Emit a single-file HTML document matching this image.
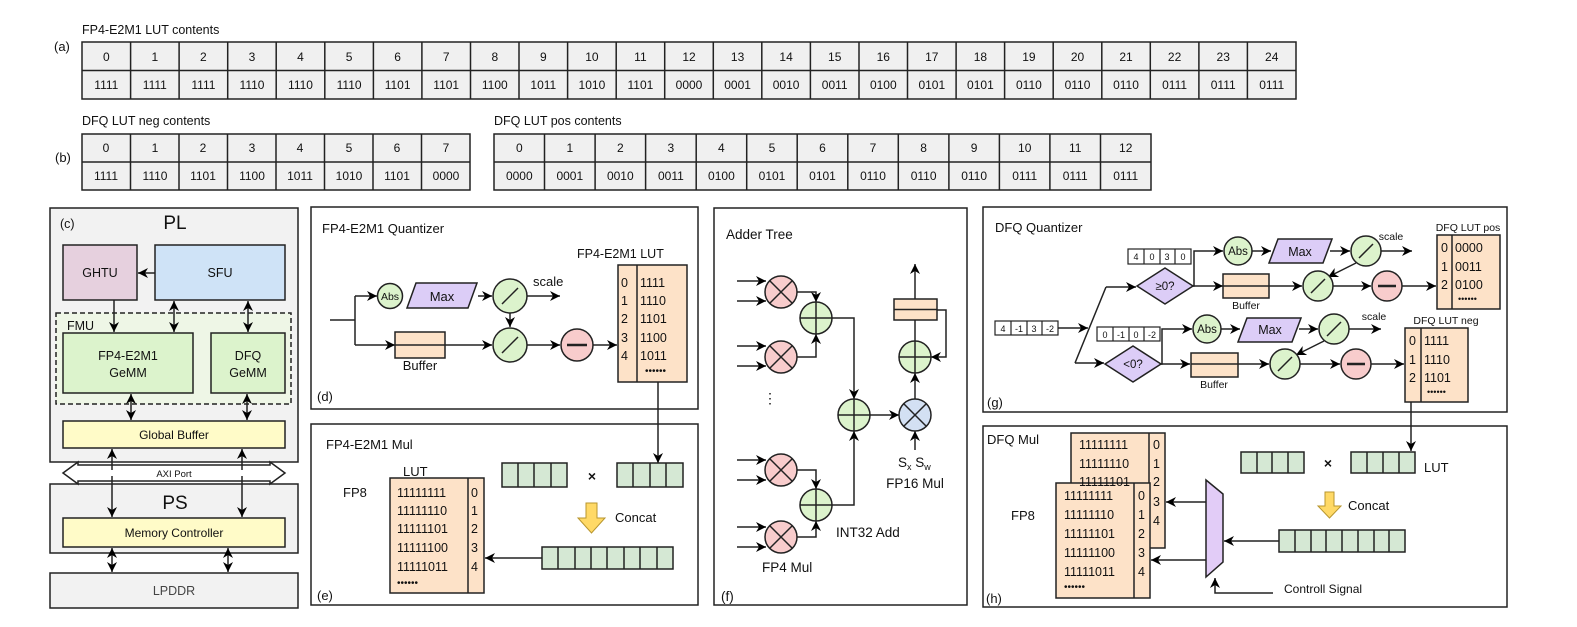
<!DOCTYPE html>
<html><head><meta charset="utf-8"><style>
body{margin:0;background:#fff}
svg{display:block;font-family:"Liberation Sans",Arial,sans-serif}
</style></head><body>
<svg width="1577" height="627" viewBox="0 0 1577 627" xmlns="http://www.w3.org/2000/svg">
<defs>
<marker id="a" viewBox="0 0 10 10" refX="10" refY="5" markerWidth="10" markerHeight="10" markerUnits="userSpaceOnUse" orient="auto-start-reverse"><path d="M0,0 L10,5 L0,10 L3,5 z" fill="#000"/></marker>
</defs>
<g font-size="12" fill="#111">
<!-- (a) -->
<text x="82" y="34" font-size="12.5">FP4-E2M1 LUT contents</text>
<text x="54" y="51" font-size="13">(a)</text>
<rect x="82" y="42" width="1214" height="57" fill="#f0f0f0" stroke="#222" stroke-width="1.5"/>
<path d="M82,70.5H1296 M130.6,42V99 M179.1,42V99 M227.7,42V99 M276.2,42V99 M324.8,42V99 M373.4,42V99 M421.9,42V99 M470.5,42V99 M519,42V99 M567.6,42V99 M616.2,42V99 M664.7,42V99 M713.3,42V99 M761.8,42V99 M810.4,42V99 M859,42V99 M907.5,42V99 M956.1,42V99 M1004.6,42V99 M1053.2,42V99 M1101.8,42V99 M1150.3,42V99 M1198.9,42V99 M1247.4,42V99" stroke="#222" stroke-width="1.5"/>
<g text-anchor="middle">
<text x="106.3" y="61">0</text><text x="154.8" y="61">1</text><text x="203.4" y="61">2</text><text x="252" y="61">3</text><text x="300.5" y="61">4</text><text x="349.1" y="61">5</text><text x="397.6" y="61">6</text><text x="446.2" y="61">7</text><text x="494.8" y="61">8</text><text x="543.3" y="61">9</text><text x="591.9" y="61">10</text><text x="640.4" y="61">11</text><text x="689" y="61">12</text><text x="737.6" y="61">13</text><text x="786.1" y="61">14</text><text x="834.7" y="61">15</text><text x="883.3" y="61">16</text><text x="931.8" y="61">17</text><text x="980.4" y="61">18</text><text x="1028.9" y="61">19</text><text x="1077.5" y="61">20</text><text x="1126" y="61">21</text><text x="1174.6" y="61">22</text><text x="1223.2" y="61">23</text><text x="1271.7" y="61">24</text>
<text x="106.3" y="89">1111</text><text x="154.8" y="89">1111</text><text x="203.4" y="89">1111</text><text x="252" y="89">1110</text><text x="300.5" y="89">1110</text><text x="349.1" y="89">1110</text><text x="397.6" y="89">1101</text><text x="446.2" y="89">1101</text><text x="494.8" y="89">1100</text><text x="543.3" y="89">1011</text><text x="591.9" y="89">1010</text><text x="640.4" y="89">1101</text><text x="689" y="89">0000</text><text x="737.6" y="89">0001</text><text x="786.1" y="89">0010</text><text x="834.7" y="89">0011</text><text x="883.3" y="89">0100</text><text x="931.8" y="89">0101</text><text x="980.4" y="89">0101</text><text x="1028.9" y="89">0110</text><text x="1077.5" y="89">0110</text><text x="1126" y="89">0110</text><text x="1174.6" y="89">0111</text><text x="1223.2" y="89">0111</text><text x="1271.7" y="89">0111</text>
</g>
<!-- (b) -->
<text x="82" y="125" font-size="12.5">DFQ LUT neg contents</text>
<text x="494" y="125" font-size="12.5">DFQ LUT pos contents</text>
<text x="55" y="162" font-size="13">(b)</text>
<rect x="82" y="134" width="388" height="56" fill="#f0f0f0" stroke="#222" stroke-width="1.5"/>
<path d="M82,162H470 M130.5,134V190 M179,134V190 M227.5,134V190 M276,134V190 M324.5,134V190 M373,134V190 M421.5,134V190" stroke="#222" stroke-width="1.5"/>
<rect x="494" y="134" width="657" height="56" fill="#f0f0f0" stroke="#222" stroke-width="1.5"/>
<path d="M494,162H1151 M544.5,134V190 M595.1,134V190 M645.6,134V190 M696.2,134V190 M746.7,134V190 M797.2,134V190 M847.8,134V190 M898.3,134V190 M948.9,134V190 M999.4,134V190 M1049.9,134V190 M1100.5,134V190" stroke="#222" stroke-width="1.5"/>
<g text-anchor="middle">
<text x="106" y="152">0</text><text x="155" y="152">1</text><text x="203" y="152">2</text><text x="252" y="152">3</text><text x="300" y="152">4</text><text x="349" y="152">5</text><text x="397" y="152">6</text><text x="446" y="152">7</text>
<text x="106" y="180">1111</text><text x="155" y="180">1110</text><text x="203" y="180">1101</text><text x="252" y="180">1100</text><text x="300" y="180">1011</text><text x="349" y="180">1010</text><text x="397" y="180">1101</text><text x="446" y="180">0000</text>
<text x="519.3" y="152">0</text><text x="569.8" y="152">1</text><text x="620.3" y="152">2</text><text x="670.9" y="152">3</text><text x="721.4" y="152">4</text><text x="772" y="152">5</text><text x="822.5" y="152">6</text><text x="873" y="152">7</text><text x="923.6" y="152">8</text><text x="974.1" y="152">9</text><text x="1024.7" y="152">10</text><text x="1075.2" y="152">11</text><text x="1125.7" y="152">12</text>
<text x="519.3" y="180">0000</text><text x="569.8" y="180">0001</text><text x="620.3" y="180">0010</text><text x="670.9" y="180">0011</text><text x="721.4" y="180">0100</text><text x="772" y="180">0101</text><text x="822.5" y="180">0101</text><text x="873" y="180">0110</text><text x="923.6" y="180">0110</text><text x="974.1" y="180">0110</text><text x="1024.7" y="180">0111</text><text x="1075.2" y="180">0111</text><text x="1125.7" y="180">0111</text>
</g>
</g>

<!-- (c) -->
<g stroke="#222" stroke-width="1.5" font-size="12" fill="#111">
<rect x="50" y="208" width="248" height="254" fill="#f2f2f2"/>
<rect x="50" y="484" width="248" height="69" fill="#f2f2f2"/>
<rect x="50" y="573" width="248" height="35" fill="#f2f2f2"/>
<rect x="63" y="245" width="74" height="55" fill="#e6d0de"/>
<rect x="155" y="245" width="130" height="55" fill="#cfe3f7"/>
<rect x="56" y="313" width="235" height="91" fill="#eef6e6" stroke-dasharray="5,3"/>
<rect x="63" y="333" width="130" height="60" fill="#dcf3cc"/>
<rect x="211" y="333" width="74" height="60" fill="#dcf3cc"/>
<rect x="63" y="421" width="222" height="27" fill="#fffbc8"/>
<rect x="63" y="518" width="222" height="29" fill="#fffbc8"/>
<path d="M63,473 L78,462 V465 H270 V462 L285,473 L270,484 V481 H78 V484 Z" fill="#fff"/>
<g fill="none" marker-end="url(#a)">
<path d="M155,273H138"/>
<path d="M114,300V332"/>
<path d="M174,301V332" marker-start="url(#a)"/>
<path d="M248,301V332" marker-start="url(#a)"/>
<path d="M131,394V420" marker-start="url(#a)"/>
<path d="M247,394V420" marker-start="url(#a)"/>
<path d="M112,470V449"/><path d="M242,470V449"/>
<path d="M112,476V517"/><path d="M242,476V517"/>
<path d="M112,548V572" marker-start="url(#a)"/>
<path d="M228,548V572" marker-start="url(#a)"/>
</g>
</g>
<g font-size="12.5" fill="#111" text-anchor="middle">
<text x="60" y="228" font-size="12.5" text-anchor="start">(c)</text>
<text x="175" y="229" font-size="19">PL</text>
<text x="100" y="277">GHTU</text>
<text x="220" y="277">SFU</text>
<text x="67" y="330" text-anchor="start">FMU</text>
<text x="128" y="360">FP4-E2M1</text><text x="128" y="377">GeMM</text>
<text x="248" y="360">DFQ</text><text x="248" y="377">GeMM</text>
<text x="174" y="439" font-size="12">Global Buffer</text>
<text x="174" y="477" font-size="9.5">AXI Port</text>
<text x="175" y="509" font-size="19">PS</text>
<text x="174" y="537" font-size="12">Memory Controller</text>
<text x="174" y="595" fill="#444">LPDDR</text>
</g>

<!-- frames -->
<g stroke="#222" stroke-width="1.5" fill="none">
<rect x="311" y="207" width="387" height="202" fill="#fff"/>
<rect x="311" y="424" width="387" height="181" fill="#fff"/>
<rect x="714" y="208" width="253" height="397" fill="#fff"/>
<rect x="983" y="207" width="524" height="205" fill="#fff"/>
<rect x="983" y="426" width="524" height="181" fill="#fff"/>
</g>
<!-- (d) -->
<g stroke="#222" stroke-width="1.5" font-size="12" fill="#111">
<path d="M330,320H355 M355,296V345" fill="none"/>
<g fill="none" marker-end="url(#a)">
<path d="M355,296H377"/><path d="M355,345H395"/><path d="M445,345H492"/>
<path d="M478,296H492"/><path d="M527,296H560"/><path d="M510,313V327"/>
<path d="M527,345H560"/><path d="M593,345H617"/>
<path d="M658,382V463"/>
</g>
<rect x="395" y="332" width="50" height="26" fill="#fde2c8"/><path d="M395,345H445"/>
<circle cx="390" cy="296" r="12.5" fill="#dcf3cc"/>
<path d="M416,283H477L468,308H407Z" fill="#dccdf7"/>
<circle cx="510" cy="296" r="17" fill="#dcf3cc"/><path d="M502,304L518,288"/>
<circle cx="510" cy="345" r="17" fill="#dcf3cc"/><path d="M502,353L518,337"/>
<circle cx="577" cy="345" r="16" fill="#f8cccc"/><path d="M567,345H587" stroke-width="2.5"/>
<rect x="618" y="265" width="69" height="117" fill="#fde2c8"/><path d="M637,265V382"/>
</g>
<g font-size="13" fill="#111">
<text x="322" y="233">FP4-E2M1 Quantizer</text>
<text x="317" y="401">(d)</text>
<text x="390" y="300" font-size="10.5" text-anchor="middle">Abs</text>
<text x="442" y="301" text-anchor="middle">Max</text>
<text x="533" y="286">scale</text>
<text x="420" y="370" text-anchor="middle">Buffer</text>
<text x="577" y="258" font-size="12.5">FP4-E2M1 LUT</text>
<g font-size="12.5"><text x="621" y="287">0</text><text x="621" y="305">1</text><text x="621" y="323">2</text><text x="621" y="342">3</text><text x="621" y="360">4</text>
<text x="640" y="287">1111</text><text x="640" y="305">1110</text><text x="640" y="323">1101</text><text x="640" y="342">1100</text><text x="640" y="360">1011</text><text x="645" y="374" font-size="10">••••••</text></g>
</g>

<!-- (e) -->
<g stroke="#222" stroke-width="1.5" font-size="12" fill="#111">
<rect x="390" y="478" width="94" height="115" fill="#fde2c8"/><path d="M468,478V593"/>
<g fill="#d5e8d4"><rect x="502" y="463" width="65" height="24"/><rect x="617" y="463" width="66" height="24"/><rect x="542" y="547" width="131" height="22"/></g>
<path d="M518,463V487 M534,463V487 M551,463V487 M633,463V487 M650,463V487 M666,463V487 M558,547V569 M575,547V569 M591,547V569 M607,547V569 M624,547V569 M640,547V569 M657,547V569" fill="none"/>
<path d="M586,503H597V518H605L591.5,533L578,518H586Z" fill="#ffd966" stroke="#b8962e" stroke-width="1"/>
<path d="M542,558H485" fill="none" marker-end="url(#a)"/>
</g>
<g font-size="13" fill="#111">
<text x="326" y="449">FP4-E2M1 Mul</text>
<text x="403" y="476">LUT</text>
<text x="343" y="497">FP8</text>
<text x="592" y="481" text-anchor="middle" font-weight="bold" font-size="14">×</text>
<text x="615" y="522">Concat</text>
<text x="317" y="600">(e)</text>
<g font-size="12.5"><text x="397" y="497">11111111</text><text x="397" y="515">11111110</text><text x="397" y="533">11111101</text><text x="397" y="552">11111100</text><text x="397" y="571">11111011</text><text x="397" y="586" font-size="10">••••••</text>
<text x="471" y="497">0</text><text x="471" y="515">1</text><text x="471" y="533">2</text><text x="471" y="552">3</text><text x="471" y="571">4</text></g>
</g>

<!-- (f) -->
<g stroke="#222" stroke-width="1.5" fill="none">
<g marker-end="url(#a)">
<path d="M737,281H766"/><path d="M737,301H766"/>
<path d="M737,346H766"/><path d="M737,366H766"/>
<path d="M737,460H766"/><path d="M737,480H766"/>
<path d="M737,527H766"/><path d="M737,547H766"/>
<path d="M797,292H816V302"/><path d="M797,357H816V334"/>
<path d="M797,470H816V489"/><path d="M797,537H816V521"/>
<path d="M832,318H854V399"/><path d="M832,505H854V431"/>
<path d="M870,415H899"/>
<path d="M915,399V373"/><path d="M915,450V431"/>
<path d="M915,299V264"/>
<path d="M937,310H946V357H931"/>
</g>
<path d="M915,341V320"/>
<rect x="894" y="299" width="43" height="21" fill="#fde2c8"/><path d="M894,309.5H937"/>
<g fill="#f8cccc">
<circle cx="781" cy="292" r="16"/><circle cx="781" cy="357" r="16"/><circle cx="781" cy="470" r="16"/><circle cx="781" cy="537" r="16"/>
</g>
<path d="M770,281L792,303M792,281L770,303 M770,346L792,368M792,346L770,368 M770,459L792,481M792,459L770,481 M770,526L792,548M792,526L770,548"/>
<g fill="#dcf3cc"><circle cx="816" cy="318" r="16"/><circle cx="816" cy="505" r="16"/><circle cx="854" cy="415" r="16"/><circle cx="915" cy="357" r="16"/></g>
<path d="M800,318H832M816,302V334 M800,505H832M816,489V521 M838,415H870M854,399V431 M899,357H931M915,341V373"/>
<circle cx="915" cy="415" r="16" fill="#d3e0f3"/><path d="M904,404L926,426M926,404L904,426"/>
</g>
<g font-size="13.5" fill="#111">
<text x="726" y="239">Adder Tree</text>
<text x="770" y="403" text-anchor="middle" font-size="14">⋮</text>
<text x="898" y="467">S<tspan font-size="9" dy="3">x</tspan><tspan dy="-3"> S</tspan><tspan font-size="9" dy="3">w</tspan></text>
<text x="915" y="488" text-anchor="middle">FP16 Mul</text>
<text x="836" y="537">INT32 Add</text>
<text x="762" y="572">FP4 Mul</text>
<text x="721" y="601">(f)</text>
</g>

<!-- (g) -->
<g stroke="#222" stroke-width="1.5" fill="none">
<g fill="#fff" stroke-width="1.2">
<rect x="995" y="321" width="63" height="14"/><path d="M1011,321V335M1027,321V335M1042,321V335"/>
<rect x="1128" y="249" width="63" height="15"/><path d="M1144,249V264M1160,249V264M1175,249V264"/>
<rect x="1097" y="327" width="63" height="14"/><path d="M1113,327V341M1129,327V341M1144,327V341"/>
</g>
<path d="M1106,287L1075,363"/>
<g marker-end="url(#a)">
<path d="M1058,328H1088"/>
<path d="M1106,287H1136"/><path d="M1075,363H1104"/>
<path d="M1193,286H1194V251H1223"/><path d="M1193,286H1223"/><path d="M1269,286H1302"/>
<path d="M1252,251H1271"/><path d="M1330,251H1350"/><path d="M1381,251H1412"/>
<path d="M1356,263L1328,277"/><path d="M1333,286H1371"/><path d="M1402,286H1436"/>
<path d="M1161,364H1162V329H1192"/><path d="M1161,364H1190"/><path d="M1238,364H1269"/>
<path d="M1221,329H1240"/><path d="M1299,329H1318"/><path d="M1349,329H1381"/>
<path d="M1324,341L1296,355"/><path d="M1300,364H1340"/><path d="M1371,364H1404"/>
<path d="M1411,402V451"/>
</g>
<path d="M1137,286L1165,268L1193,286L1165,304Z" fill="#dccdf7"/>
<path d="M1105,364L1133,346L1161,364L1133,382Z" fill="#dccdf7"/>
<rect x="1223" y="274" width="46" height="24" fill="#fde2c8"/><path d="M1223,286H1269"/>
<rect x="1191" y="353" width="47" height="24" fill="#fde2c8"/><path d="M1191,364H1238"/>
<g fill="#dcf3cc"><circle cx="1238" cy="251" r="14"/><circle cx="1207" cy="329" r="14"/>
<circle cx="1366" cy="251" r="15"/><circle cx="1318" cy="286" r="15"/><circle cx="1334" cy="329" r="15"/><circle cx="1285" cy="364" r="15"/></g>
<path d="M1359,258L1373,244 M1311,293L1325,279 M1327,336L1341,322 M1278,371L1292,357"/>
<path d="M1278,239H1332L1323,263H1269Z" fill="#dccdf7"/>
<path d="M1247,318H1301L1292,342H1238Z" fill="#dccdf7"/>
<g fill="#f8cccc"><circle cx="1387" cy="286" r="15"/><circle cx="1356" cy="364" r="15"/></g>
<path d="M1378,286H1396 M1347,364H1365" stroke-width="2.5"/>
<rect x="1437" y="235" width="63" height="74" fill="#fde2c8"/><path d="M1452,235V309"/>
<rect x="1405" y="328" width="63" height="74" fill="#fde2c8"/><path d="M1421,328V402"/>
</g>
<g font-size="13" fill="#111">
<text x="995" y="232">DFQ Quantizer</text>
<text x="987" y="407">(g)</text>
<g font-size="9" text-anchor="middle"><text x="1003" y="332">4</text><text x="1019" y="332">-1</text><text x="1034" y="332">3</text><text x="1050" y="332">-2</text>
<text x="1136" y="260">4</text><text x="1152" y="260">0</text><text x="1167" y="260">3</text><text x="1183" y="260">0</text>
<text x="1105" y="338">0</text><text x="1121" y="338">-1</text><text x="1136" y="338">0</text><text x="1152" y="338">-2</text></g>
<g text-anchor="middle" font-size="11.5"><text x="1165" y="290">≥0?</text><text x="1133" y="368">&lt;0?</text>
<text x="1238" y="255">Abs</text><text x="1207" y="333">Abs</text>
<text x="1300" y="256" font-size="12.5">Max</text><text x="1270" y="334" font-size="12.5">Max</text>
<text x="1246" y="309" font-size="10.5">Buffer</text><text x="1214" y="388" font-size="10.5">Buffer</text>
<text x="1391" y="240" font-size="10.5">scale</text><text x="1374" y="320" font-size="10.5">scale</text>
<text x="1468" y="231" font-size="10.5">DFQ LUT pos</text><text x="1446" y="324" font-size="10.5">DFQ LUT neg</text></g>
<g font-size="12.5"><text x="1441" y="252">0</text><text x="1441" y="271">1</text><text x="1441" y="289">2</text>
<text x="1455" y="252">0000</text><text x="1455" y="271">0011</text><text x="1455" y="289">0100</text><text x="1458" y="302" font-size="9">••••••</text>
<text x="1409" y="345">0</text><text x="1409" y="364">1</text><text x="1409" y="382">2</text>
<text x="1424" y="345">1111</text><text x="1424" y="364">1110</text><text x="1424" y="382">1101</text><text x="1427" y="395" font-size="9">••••••</text></g>
</g>

<!-- (h) -->
<g stroke="#222" stroke-width="1.5" fill="none">
<rect x="1071" y="433" width="94" height="115" fill="#fde2c8"/><path d="M1149,433V548"/>
<rect x="1056" y="483" width="94" height="115" fill="#fde2c8"/><path d="M1134,483V598"/>
<path d="M1206,480L1223,494V562L1206,577Z" fill="#e2ccf7"/>
<g fill="#d5e8d4"><rect x="1241" y="452" width="63" height="21"/><rect x="1351" y="452" width="64" height="21"/><rect x="1279" y="530" width="126" height="22"/></g>
<path d="M1257,452V473M1272,452V473M1288,452V473 M1367,452V473M1383,452V473M1399,452V473 M1295,530V552M1311,530V552M1326,530V552M1342,530V552M1358,530V552M1374,530V552M1389,530V552"/>
<path d="M1325,492H1334V506H1341L1329.5,518L1318,506H1325Z" fill="#ffd966" stroke="#b8962e" stroke-width="1"/>
<g marker-end="url(#a)"><path d="M1279,541H1224"/><path d="M1206,502H1166"/><path d="M1206,560H1151"/><path d="M1273,593H1215V578"/></g>
</g>
<g font-size="13" fill="#111">
<text x="987" y="444">DFQ Mul</text>
<text x="1011" y="520">FP8</text>
<text x="1328" y="468" text-anchor="middle" font-weight="bold" font-size="14">×</text>
<text x="1424" y="472">LUT</text>
<text x="1348" y="510">Concat</text>
<text x="1284" y="593" font-size="12">Controll Signal</text>
<text x="986" y="603">(h)</text>
<g font-size="12.5"><text x="1079" y="449">11111111</text><text x="1079" y="468">11111110</text><text x="1079" y="486">11111101</text>
<text x="1153" y="449">0</text><text x="1153" y="468">1</text><text x="1153" y="486">2</text><text x="1153" y="506">3</text><text x="1153" y="525">4</text>
<text x="1064" y="500">11111111</text><text x="1064" y="519">11111110</text><text x="1064" y="538">11111101</text><text x="1064" y="557">11111100</text><text x="1064" y="576">11111011</text><text x="1064" y="590" font-size="10">••••••</text>
<text x="1138" y="500">0</text><text x="1138" y="519">1</text><text x="1138" y="538">2</text><text x="1138" y="557">3</text><text x="1138" y="576">4</text></g>
</g>
</svg>
</body></html>
